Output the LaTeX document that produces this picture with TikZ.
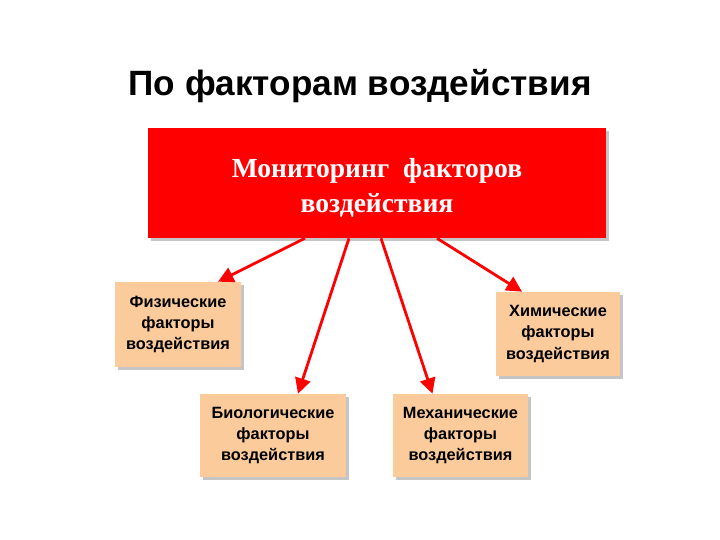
\documentclass[tikz,border=0pt]{standalone}
\usepackage{fontspec}
\setmainfont{Liberation Serif}
\setsansfont{Liberation Sans}
\usepackage{tikz}
\usetikzlibrary{arrows.meta}
\usetikzlibrary{shadows}
\usetikzlibrary{calc}
\definecolor{peach}{RGB}{251,203,156}

\begin{document}
\begin{tikzpicture}[
  factor/.style={draw=none,fill=peach,align=center,font=\sffamily\bfseries\fontsize{11.6}{15}\selectfont,
    drop shadow={shadow xshift=2pt,shadow yshift=-2pt,fill=black!45}},
  link/.style={red,line width=2pt,-{Triangle[length=11pt,width=11pt]}}
]
 \useasboundingbox (0,0) rectangle (18,13.5);
 \node (title) at (9,11.35) {\sffamily\bfseries\fontsize{25}{30}\selectfont По факторам воздействия};

 \node[fill=red,minimum width=11.45cm,minimum height=2.75cm,
   drop shadow={shadow xshift=2pt,shadow yshift=-2pt,fill=black!45}] (main) at (9.425,8.925)
   {};
 \node[text=white,align=center,font=\bfseries\fontsize{19.6}{25}\selectfont] (maintext) at ([yshift=-0.12cm]main.center)
   {Мониторинг\ \ факторов\\воздействия};

 \node[factor,minimum width=3.15cm,minimum height=2.125cm] (phys) at (4.45,5.3875) {Физические\\факторы\\воздействия};
 \node[factor,minimum width=3.65cm,minimum height=2.075cm] (bio) at (6.825,2.6125) {Биологические\\факторы\\воздействия};
 \node[factor,minimum width=3.375cm,minimum height=2.075cm] (mech) at (11.5125,2.6125) {Механические\\факторы\\воздействия};
 \node[factor,minimum width=3.1cm,minimum height=2.1cm] (chem) at (13.95,5.15) {Химические\\факторы\\воздействия};

 % arrows from the bottom edge
 \draw[link] ([xshift=-1.8cm]main.south) -- ([xshift=1.0cm]phys.north);
 \draw[link] ([xshift=-0.7cm]main.south) -- ([xshift=0.625cm]bio.north);
 \draw[link] ([xshift=0.1cm]main.south) -- ([xshift=-0.7cm]mech.north);
 \draw[link] ([xshift=1.5cm]main.south) -- ([xshift=-0.9cm]chem.north);
\end{tikzpicture}
\end{document}
